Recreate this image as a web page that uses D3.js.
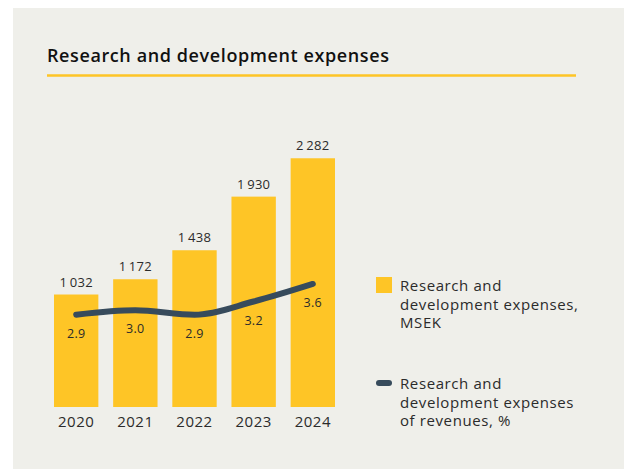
<!DOCTYPE html>
<html>
<head>
<meta charset="utf-8">
<script src="https://cdn.jsdelivr.net/npm/d3@7"></script>
<style>
    body { margin: 0; background: #ffffff; }
    svg { display: block; }
</style>
</head>
<body>
<div id="chart"></div>
<script>

// Data

const years = ["2020", "2021", "2022", "2023", "2024"];
const expenses = [1032, 1172, 1438, 1930, 2282];
const shareOfRevenues = [2.9, 3.0, 2.9, 3.2, 3.6];

const title = "Research and development expenses";
const legendBars = ["Research and", "development expenses,", "MSEK"];
const legendLine = ["Research and", "development expenses", "of revenues, %"];

// Configure

const width = 624;
const height = 469;

const design = {
    background: "#efefea",
    bar: "#fec526",
    line: "#374b5c",
    text: "#2b2b2b",
    font: "'Open Sans', sans-serif",
};

const svg = d3.select("#chart").append("svg")
    .attr("width", width)
    .attr("height", height);

svg.append("rect")
    .attr("x", 13)
    .attr("y", 8)
    .attr("width", width - 13)
    .attr("height", height - 8)
    .attr("fill", design.background);

// Title

svg.append("text")
    .attr("x", 47)
    .attr("y", 62)
    .attr("font-family", design.font)
    .attr("font-size", 18)
    .attr("font-weight", 600)
    .attr("letter-spacing", 0.6)
    .attr("fill", "#111")
    .text(title);

svg.append("line")
    .attr("x1", 47)
    .attr("x2", 576)
    .attr("y1", 75.5)
    .attr("y2", 75.5)
    .attr("stroke", design.bar)
    .attr("stroke-width", 2.5);

// Scales

const xScale = d3.scaleBand()
    .domain(years)
    .range([54, 335])
    .paddingInner(0.25)
    .paddingOuter(0);

const yScale = d3.scaleLinear()
    .domain([0, 2500])
    .range([407, 134.5]);

const pctScale = d3.scaleLinear()
    .domain([0, 4])
    .range([442, 266.4]);

const format = d3.formatLocale({
    decimal: ".",
    thousands: "\u2009",
    grouping: [3],
    currency: ["", ""],
});
const formatValue = format.format(",d");
const formatPct = format.format(".1f");

const rows = years.map((year, i) => ({
    year: year,
    value: expenses[i],
    pct: shareOfRevenues[i],
}));

// Bars

svg.selectAll("rect.bar")
    .data(rows)
    .enter()
    .append("rect")
    .attr("class", "bar")
    .attr("x", row => xScale(row.year))
    .attr("y", row => yScale(row.value))
    .attr("width", xScale.bandwidth())
    .attr("height", row => yScale(0) - yScale(row.value))
    .attr("fill", design.bar);

svg.selectAll("text.value")
    .data(rows)
    .enter()
    .append("text")
    .attr("class", "value")
    .attr("x", row => xScale(row.year) + xScale.bandwidth() / 2)
    .attr("y", row => yScale(row.value) - 8)
    .attr("text-anchor", "middle")
    .attr("font-family", design.font)
    .attr("font-size", 13)
    .attr("letter-spacing", 0.3)
    .attr("fill", design.text)
    .text(row => formatValue(row.value));

// Line

const line = d3.line()
    .curve(d3.curveMonotoneX)
    .x(row => xScale(row.year) + xScale.bandwidth() / 2)
    .y(row => pctScale(row.pct));

svg.append("path")
    .attr("fill", "none")
    .attr("stroke", design.line)
    .attr("stroke-width", 6)
    .attr("stroke-linecap", "round")
    .attr("d", line(rows));

svg.selectAll("text.pct")
    .data(rows)
    .enter()
    .append("text")
    .attr("class", "pct")
    .attr("x", row => xScale(row.year) + xScale.bandwidth() / 2)
    .attr("y", row => pctScale(row.pct) + 23)
    .attr("text-anchor", "middle")
    .attr("font-family", design.font)
    .attr("font-size", 12.5)
    .attr("letter-spacing", 0.3)
    .attr("fill", design.text)
    .text(row => formatPct(row.pct));

// X-axis labels

const xAxis = d3.axisBottom(xScale)
    .tickSize(0)
    .tickPadding(9);

const axis = svg.append("g")
    .attr("transform", "translate(0, " + yScale(0) + ")")
    .call(xAxis);

axis.select(".domain").remove();

axis.selectAll("text")
    .attr("font-family", design.font)
    .attr("font-size", 15)
    .attr("letter-spacing", 0.5)
    .attr("fill", design.text);

// Legend

svg.append("rect")
    .attr("x", 376)
    .attr("y", 277)
    .attr("width", 16)
    .attr("height", 16)
    .attr("fill", design.bar);

svg.append("line")
    .attr("x1", 379)
    .attr("x2", 389)
    .attr("y1", 383)
    .attr("y2", 383)
    .attr("stroke", design.line)
    .attr("stroke-width", 6)
    .attr("stroke-linecap", "round");

const legendBlock = (lines, top) => {
    svg.append("g")
        .selectAll("text")
        .data(lines)
        .enter()
        .append("text")
        .attr("x", 400)
        .attr("y", (d, i) => top + i * 18.5)
        .attr("font-family", design.font)
        .attr("font-size", 15)
        .attr("letter-spacing", 0.6)
        .attr("fill", design.text)
        .text(d => d);
};

legendBlock(legendBars, 291);
legendBlock(legendLine, 389);

</script>
</body>
</html>
